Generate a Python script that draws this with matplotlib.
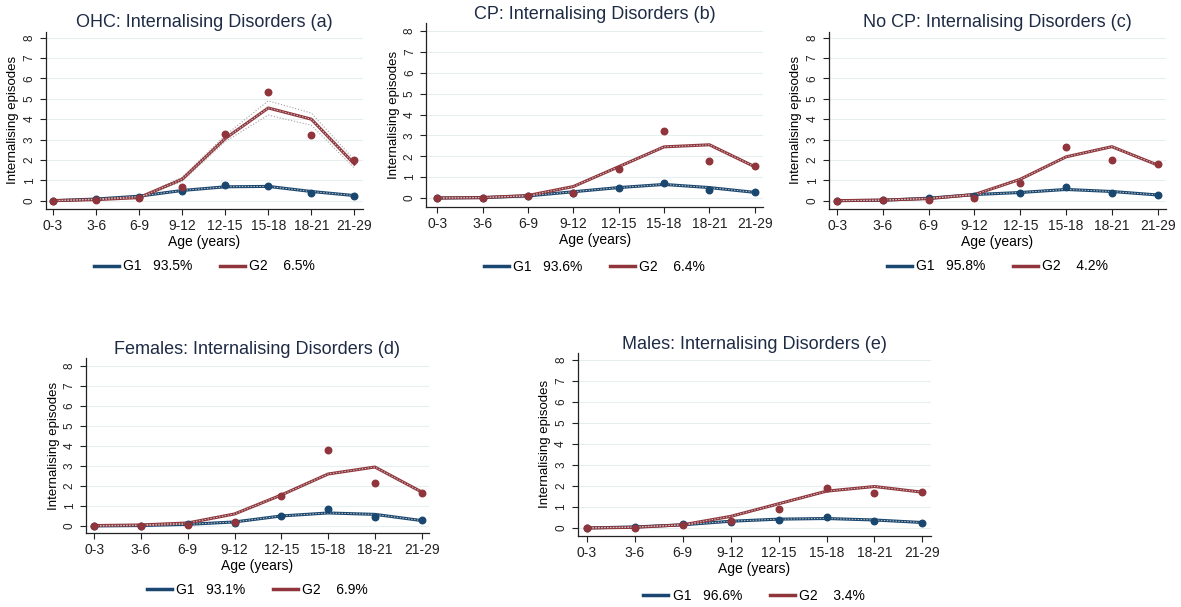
import matplotlib
matplotlib.use("Agg")
import matplotlib.pyplot as plt
from matplotlib.lines import Line2D

plt.rcParams["font.family"] = ["Liberation Sans", "DejaVu Sans"]

ages = ["0-3", "3-6", "6-9", "9-12", "12-15", "15-18", "18-21", "21-29"]

# (a) OHC
a_g1_fit = [0.0, 0.08, 0.22, 0.50, 0.68, 0.70, 0.45, 0.25]
a_g1_obs = [0.0, 0.08, 0.20, 0.45, 0.75, 0.72, 0.40, 0.25]
a_g2_fit = [0.0, 0.05, 0.15, 1.05, 3.05, 4.55, 4.00, 1.80]
a_g2_obs = [0.0, 0.03, 0.15, 0.65, 3.25, 5.35, 3.20, 2.00]
a_g2_lo = [0.0, 0.03, 0.12, 0.95, 2.90, 4.20, 3.70, 1.60]
a_g2_hi = [0.0, 0.07, 0.18, 1.15, 3.20, 4.90, 4.30, 2.00]

# (b) CP
b_g1_fit = [0.0, 0.02, 0.10, 0.30, 0.50, 0.65, 0.50, 0.27]
b_g1_obs = [0.0, 0.00, 0.12, 0.25, 0.48, 0.72, 0.38, 0.28]
b_g2_fit = [0.0, 0.02, 0.12, 0.55, 1.50, 2.45, 2.55, 1.50]
b_g2_obs = [0.0, 0.00, 0.08, 0.25, 1.40, 3.20, 1.75, 1.55]

# (c) No CP
c_g1_fit = [0.0, 0.02, 0.12, 0.30, 0.40, 0.55, 0.45, 0.28]
c_g1_obs = [0.0, 0.02, 0.12, 0.25, 0.38, 0.65, 0.40, 0.28]
c_g2_fit = [0.0, 0.03, 0.10, 0.30, 1.05, 2.15, 2.65, 1.75]
c_g2_obs = [0.0, 0.03, 0.05, 0.15, 0.85, 2.65, 2.00, 1.80]

# (d) Females
d_g1_fit = [0.0, 0.02, 0.08, 0.20, 0.50, 0.65, 0.58, 0.27]
d_g1_obs = [0.0, 0.00, 0.08, 0.15, 0.50, 0.85, 0.45, 0.30]
d_g2_fit = [0.02, 0.05, 0.15, 0.60, 1.55, 2.60, 2.95, 1.70]
d_g2_obs = [0.0, 0.00, 0.05, 0.20, 1.50, 3.80, 2.15, 1.65]

# (e) Males
e_g1_fit = [0.0, 0.05, 0.15, 0.32, 0.42, 0.45, 0.38, 0.26]
e_g1_obs = [0.0, 0.05, 0.18, 0.30, 0.38, 0.50, 0.33, 0.26]
e_g2_fit = [0.0, 0.03, 0.15, 0.55, 1.15, 1.75, 1.97, 1.70]
e_g2_obs = [0.0, 0.02, 0.12, 0.35, 0.88, 1.90, 1.65, 1.72]

titles = ["OHC: Internalising Disorders (a)", "CP: Internalising Disorders (b)",
          "No CP: Internalising Disorders (c)", "Females: Internalising Disorders (d)",
          "Males: Internalising Disorders (e)"]
shares = [("93.5%", "6.5%"), ("93.6%", "6.4%"), ("95.8%", "4.2%"),
          ("93.1%", "6.9%"), ("96.6%", "3.4%")]

BLUE = "#1a476f"
RED = "#90353b"

panels = [
    dict(rect=[0.039, 0.656, 0.268, 0.292], xlim=(-0.16, 7.19), ylim=(-0.4, 8.3),
         g1=(a_g1_fit, a_g1_obs), g2=(a_g2_fit, a_g2_obs), ci=(a_g2_lo, a_g2_hi)),
    dict(rect=[0.361, 0.659, 0.285, 0.303], xlim=(-0.24, 7.18), ylim=(-0.43, 8.38),
         g1=(b_g1_fit, b_g1_obs), g2=(b_g2_fit, b_g2_obs), ci=None),
    dict(rect=[0.702, 0.656, 0.285, 0.292], xlim=(-0.175, 7.175), ylim=(-0.4, 8.3),
         g1=(c_g1_fit, c_g1_obs), g2=(c_g2_fit, c_g2_obs), ci=None),
    dict(rect=[0.073, 0.122, 0.290, 0.288], xlim=(-0.17, 7.15), ylim=(-0.35, 8.4),
         g1=(d_g1_fit, d_g1_obs), g2=(d_g2_fit, d_g2_obs), ci=None),
    dict(rect=[0.489, 0.117, 0.299, 0.302], xlim=(-0.19, 7.17), ylim=(-0.38, 8.33),
         g1=(e_g1_fit, e_g1_obs), g2=(e_g2_fit, e_g2_obs), ci=None),
]

fig = plt.figure(figsize=(11.81, 6.07), dpi=100)
x = list(range(len(ages)))

for p, title, (s1, s2) in zip(panels, titles, shares):
    ax = fig.add_axes(p["rect"])
    for y in range(0, 9):
        ax.axhline(y, color="#e6eef0", lw=0.8, zorder=0)
    for (fit, obs), col in ((p["g1"], BLUE), (p["g2"], RED)):
        ax.plot(x, fit, color=col, lw=2.2, zorder=3)
        ax.plot(x, fit, color="#c8c8c8", lw=0.7, ls=(0, (1.5, 1.5)), zorder=4)
        ax.scatter(x, obs, color=col, s=22, zorder=5)
    if p["ci"] is not None:
        for band in p["ci"]:
            ax.plot(x, band, color="#a0a0a0", lw=0.8, ls=":", zorder=2)
    ax.set_xlim(*p["xlim"])
    ax.set_ylim(*p["ylim"])
    ax.set_xticks(x)
    ax.set_xticklabels(ages, fontsize=10)
    ax.set_yticks(range(0, 9))
    ax.set_yticklabels([str(v) for v in range(0, 9)], fontsize=8.5, rotation=90, va="center")
    ax.tick_params(axis="both", direction="out", length=4, width=0.8, colors="#222222")
    for s in ("top", "right"):
        ax.spines[s].set_visible(False)
    for s in ("left", "bottom"):
        ax.spines[s].set_color("#222222")
        ax.spines[s].set_linewidth(0.9)
    ax.set_xlabel("Age (years)", fontsize=10, labelpad=1)
    ax.set_ylabel("Internalising episodes", fontsize=9.5, labelpad=3)
    ax.set_title(title, fontsize=13, color="#1e2b45", pad=3)
    handles = [Line2D([], [], color=BLUE, lw=2.5), Line2D([], [], color=RED, lw=2.5)]
    ax.legend(handles, [f"G1   {s1}", f"G2    {s2}"], loc="center",
              bbox_to_anchor=(0.5, -0.325), ncol=2, frameon=False, fontsize=10,
              handlelength=1.8, handletextpad=0.3, columnspacing=2.0,
              borderaxespad=0, borderpad=0)

fig.savefig("out.png", dpi=100, facecolor="white")
